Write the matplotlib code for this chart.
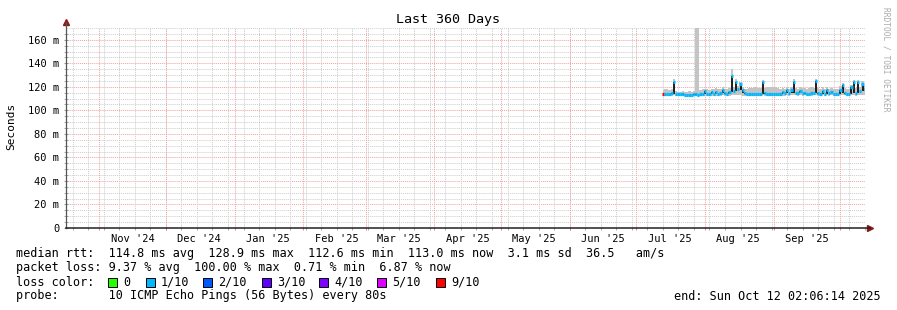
import pandas as pd
import matplotlib
matplotlib.use("Agg")
import matplotlib.pyplot as plt
import matplotlib.dates as mdates
import matplotlib.transforms as mtransforms
from matplotlib.patches import Rectangle

# police a chasse fixe comme rrdtool
plt.rcParams['font.family'] = ['DejaVu Sans Mono', 'DejaVu Sans']

# fenetre de 360 jours
debut = pd.Timestamp("2024-10-17 02:06:14")
fin = pd.Timestamp("2025-10-12 02:06:14")

# premier jour avec des mesures
premier_jour = "2025-07-13"

# mediane du rtt (ms), un point par jour
mediane = [114.0, 114.0, 113.8, 114.0, 114.5, 124.0, 114.2, 113.8, 113.6, 113.5,
           113.2, 113.0, 113.4, 113.0, 113.6, 114.0, 113.2, 113.5, 114.0, 116.5,
           113.8, 113.6, 115.5, 114.0, 116.0, 113.8, 115.0, 117.5, 114.5, 114.2,
           116.0, 128.9, 116.5, 124.0, 118.0, 122.0, 117.0, 115.0, 114.2, 114.0,
           113.8, 113.8, 113.8, 114.0, 114.0, 124.5, 114.5, 114.0, 113.8, 113.5,
           113.5, 113.5, 113.6, 114.0, 116.0, 114.5, 117.0, 115.0, 117.5, 124.0,
           115.0, 114.5, 116.5, 114.5, 115.0, 114.0, 114.2, 114.5, 115.0, 125.0,
           114.5, 114.2, 116.5, 114.0, 117.0, 114.5, 115.5, 114.2, 114.0, 114.0,
           117.0, 121.5, 115.0, 114.0, 113.8, 119.5, 124.0, 114.5, 124.0, 116.5,
           122.5, 118.0]

# haut et bas de la fumee (ms)
fumee_haut = [117.5, 118.0, 118.0, 117.5, 118.5, 126.5, 116.5, 116.0, 116.0, 116.5,
              116.0, 116.0, 116.5, 116.0, 116.5, 170.0, 170.0, 117.5, 118.0, 118.5,
              118.0, 117.5, 118.5, 118.0, 119.0, 118.0, 118.5, 119.5, 118.5, 118.0,
              119.0, 135.0, 120.0, 127.0, 121.0, 124.5, 120.0, 118.5, 118.5, 119.0,
              119.0, 119.5, 119.5, 119.0, 119.0, 126.0, 119.0, 119.5, 119.5, 120.0,
              120.0, 119.5, 119.0, 118.5, 119.0, 118.5, 119.5, 118.5, 119.5, 126.5,
              119.0, 118.5, 119.5, 119.0, 119.0, 118.5, 119.0, 119.5, 119.0, 127.0,
              119.0, 118.5, 119.5, 118.5, 119.5, 118.5, 119.0, 118.5, 118.0, 118.0,
              120.5, 123.5, 119.0, 118.5, 118.5, 121.5, 126.0, 119.0, 126.0, 119.5,
              125.0, 121.0]
fumee_bas = [112.5, 112.5, 112.3, 112.5, 112.6, 112.8, 112.5, 112.3, 112.0, 112.0,
             111.8, 111.6, 111.9, 111.6, 112.0, 112.3, 111.8, 112.0, 112.4, 112.6,
             112.2, 112.0, 112.5, 112.4, 112.6, 112.2, 112.5, 112.8, 112.6, 112.5,
             112.6, 113.0, 112.8, 113.0, 112.8, 112.8, 112.6, 112.5, 112.4, 112.3,
             112.2, 112.2, 112.2, 112.3, 112.3, 112.8, 112.6, 112.4, 112.2, 112.0,
             112.0, 112.0, 112.1, 112.4, 112.6, 112.6, 112.8, 112.6, 112.8, 113.0,
             112.8, 112.6, 112.8, 112.6, 112.8, 112.4, 112.5, 112.6, 112.8, 113.0,
             112.6, 112.5, 112.8, 112.4, 112.8, 112.6, 112.8, 112.5, 112.4, 112.4,
             112.8, 113.0, 112.8, 112.4, 112.2, 112.8, 113.0, 112.6, 113.0, 112.8,
             113.0, 112.8]

# indice de la couleur de perte pour chaque jour
perte = [6, 1, 1, 1, 1, 1, 1, 1, 1, 1, 1, 1, 1, 1, 1, 1, 1, 1, 1, 1,
         1, 1, 1, 1, 1, 1, 1, 1, 1, 1, 1, 1, 1, 1, 1, 1, 1, 1, 1, 1,
         1, 1, 1, 1, 1, 1, 1, 1, 1, 1, 1, 1, 1, 1, 1, 1, 1, 1, 1, 1,
         1, 1, 1, 1, 1, 1, 1, 1, 1, 1, 1, 1, 1, 1, 1, 1, 1, 1, 1, 1,
         1, 1, 1, 1, 1, 1, 1, 1, 1, 1, 1, 1]

couleurs_perte = ["#26ff00", "#00b8ff", "#0059ff", "#5e00ff", "#7e00ff", "#dd00ff", "#ff0000"]
etiquettes_perte = ["0", "1/10", "2/10", "3/10", "4/10", "5/10", "9/10"]

# graduations de l'axe y (ms)
ticks_y = [0, 20, 40, 60, 80, 100, 120, 140, 160]

ligne_rtt = "median rtt:  114.8 ms avg  128.9 ms max  112.6 ms min  113.0 ms now  3.1 ms sd  36.5   am/s"
ligne_perte = "packet loss: 9.37 % avg  100.00 % max  0.71 % min  6.87 % now"
ligne_sonde = "probe:       10 ICMP Echo Pings (56 Bytes) every 80s"
ligne_fin = "end: Sun Oct 12 02:06:14 2025"

W, H = 897, 310
fig = plt.figure(figsize=(W / 100, H / 100), dpi=100)
ax = fig.add_axes([66.2 / W, 82 / H, 798.8 / W, 200 / H])

jours = pd.date_range(premier_jour, periods=len(mediane), freq="D")
x = mdates.date2num(jours)

# grille horizontale
for v in range(5, 171, 5):
    if v % 20 == 0:
        ax.axhline(v, color="#f2a0a0", lw=0.7, ls=(0, (1, 1)), zorder=0)
    else:
        ax.axhline(v, color="#cccccc", lw=0.7, ls=(0, (1, 1)), zorder=0)

# grille verticale : semaines (dimanche) et mois
semaines = pd.date_range("2024-10-20", "2025-10-12", freq="W-SUN")
mois = pd.date_range("2024-11-01", "2025-10-01", freq="MS")
for d in semaines:
    ax.axvline(d, color="#cccccc", lw=0.7, ls=(0, (1, 1)), zorder=0)
for d in mois:
    ax.axvline(d, color="#f2a0a0", lw=0.7, ls=(0, (1, 1)), zorder=0)

# fumee
ax.fill_between(x, fumee_bas, fumee_haut, step="mid", color="#c4c4c4", lw=0, zorder=2)

# mediane : traits verticaux noirs pour les pics, puis segments colores selon la perte
bas_pic = [min(mediane[max(i - 1, 0)], mediane[i], mediane[min(i + 1, len(mediane) - 1)])
           for i in range(len(mediane))]
ax.vlines(x, bas_pic, mediane, color="#111111", lw=1.3, zorder=3)
ax.hlines(mediane, x - 0.5, x + 0.5, colors=[couleurs_perte[p] for p in perte], lw=2.3, zorder=4)

ax.set_xlim(mdates.date2num(debut), mdates.date2num(fin))
ax.set_ylim(0, 170)

# axes
for s in ["top", "right", "left", "bottom"]:
    ax.spines[s].set_visible(False)
ax.plot([0, 0], [0, 1.03], transform=ax.transAxes, color="#555555", lw=0.9, clip_on=False, zorder=5)
ax.plot([0, 1.006], [0, 0], transform=ax.transAxes, color="#222222", lw=1.1, clip_on=False, zorder=5)
ax.plot([0], [1.03], marker="^", ms=4, color="#8b1a1a", transform=ax.transAxes, clip_on=False)
ax.plot([1.006], [0], marker=">", ms=4, color="#8b1a1a", transform=ax.transAxes, clip_on=False)

# etiquettes y
ax.set_yticks(ticks_y, [f"{v} m" if v else "0" for v in ticks_y])
ax.set_yticks(range(5, 170, 5), minor=True)
ax.tick_params(axis="y", which="both", direction="inout", length=3, color="#999999", pad=3.5, labelsize=7.5)

# etiquettes x au milieu des mois
milieux = pd.date_range("2024-11-01", "2025-09-01", freq="MS") + pd.Timedelta(days=15)
ax.set_xticks(milieux, [d.strftime("%b '%y") for d in milieux])
ax.tick_params(axis="x", length=0, pad=4.5, labelsize=7.5)

# petits traits sous l'axe x
trans = mtransforms.blended_transform_factory(ax.transData, ax.transAxes)
ax.vlines(semaines, -0.012, 0.005, transform=trans, color="#aaaaaa", lw=0.7, clip_on=False)
ax.vlines(mois, -0.012, 0.005, transform=trans, color="#f08080", lw=0.7, clip_on=False)

# textes
fig.text(448 / W, 1 - 19 / H, "Last 360 Days", ha="center", va="center", fontsize=9.6)
fig.text(11 / W, 1 - 126 / H, "Seconds", ha="center", va="center", rotation=90, fontsize=8)
fig.text(886 / W, 1 - 59 / H, "RRDTOOL / TOBI OETIKER", ha="center", va="center",
         rotation=270, fontsize=5.7, color="#aaaaaa")

fig.text(16 / W, 1 - 254 / H, ligne_rtt, va="center", fontsize=8.5)
fig.text(16 / W, 1 - 268 / H, ligne_perte, va="center", fontsize=8.5)
fig.text(16 / W, 1 - 282 / H, "loss color:", va="center", fontsize=8.5)
fig.text(16 / W, 1 - 296 / H, ligne_sonde, va="center", fontsize=8.5)
fig.text(881 / W, 1 - 296 / H, ligne_fin, va="center", ha="right", fontsize=8.5)

# carres de couleur de perte
pos_carres = [108, 146, 203, 262, 319, 377, 436]
for px, c, t in zip(pos_carres, couleurs_perte, etiquettes_perte):
    fig.add_artist(Rectangle((px / W, 1 - 286.5 / H), 8.5 / W, 8.5 / H, transform=fig.transFigure,
                             facecolor=c, edgecolor="black", lw=0.7))
    fig.text((px + 15) / W, 1 - 282 / H, t, va="center", fontsize=8.5)

fig.savefig("out.png", dpi=100)
